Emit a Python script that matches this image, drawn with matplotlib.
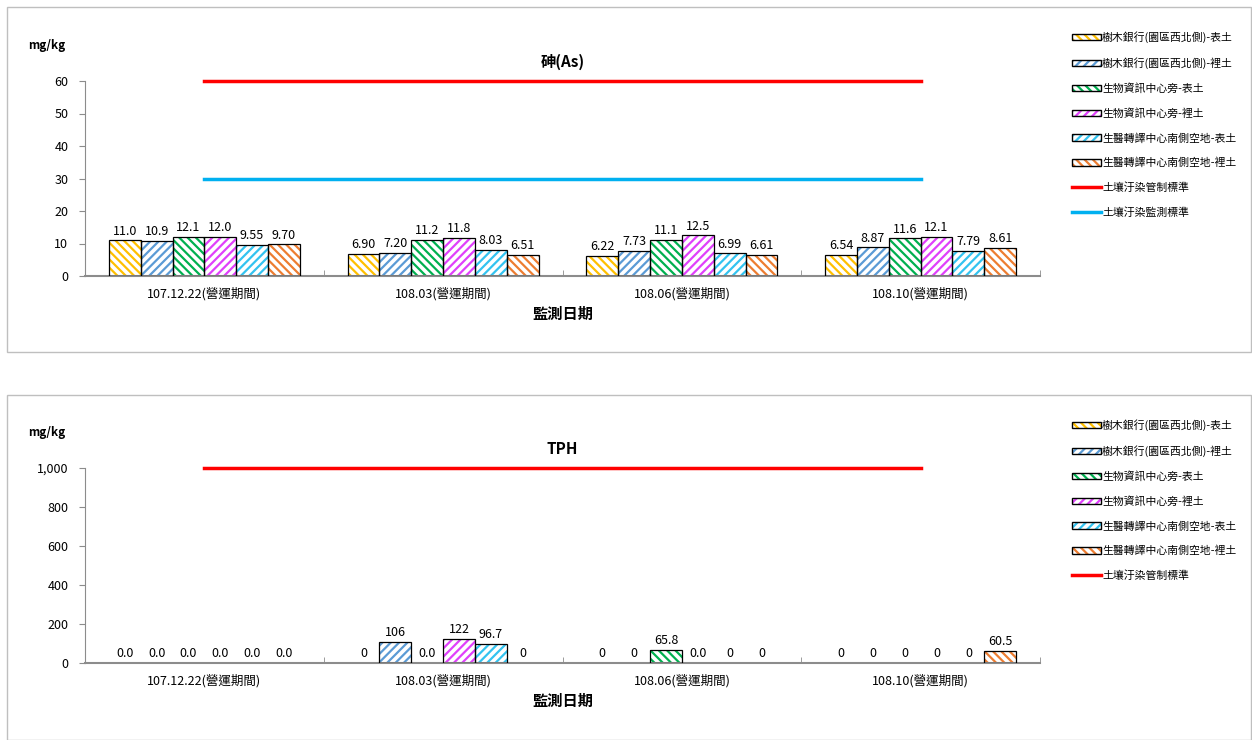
import numpy as np
import matplotlib.pyplot as plt
from matplotlib.patches import Rectangle, Patch
from matplotlib.lines import Line2D
from matplotlib.legend_handler import HandlerTuple
from matplotlib.ticker import FuncFormatter

plt.rcParams['font.family'] = ['Noto Sans CJK TC', 'DejaVu Sans']
plt.rcParams['hatch.linewidth'] = 1.6

# data
dates = ["107.12.22(營運期間)", "108.03(營運期間)", "108.06(營運期間)", "108.10(營運期間)"]
sites = ["樹木銀行(園區西北側)-表土", "樹木銀行(園區西北側)-裡土",
         "生物資訊中心旁-表土", "生物資訊中心旁-裡土",
         "生醫轉譯中心南側空地-表土", "生醫轉譯中心南側空地-裡土"]

as_vals = [[11.0, 6.90, 6.22, 6.54],
           [10.9, 7.20, 7.73, 8.87],
           [12.1, 11.2, 11.1, 11.6],
           [12.0, 11.8, 12.5, 12.1],
           [9.55, 8.03, 6.99, 7.79],
           [9.70, 6.51, 6.61, 8.61]]
as_labels = [["11.0", "6.90", "6.22", "6.54"],
             ["10.9", "7.20", "7.73", "8.87"],
             ["12.1", "11.2", "11.1", "11.6"],
             ["12.0", "11.8", "12.5", "12.1"],
             ["9.55", "8.03", "6.99", "7.79"],
             ["9.70", "6.51", "6.61", "8.61"]]
as_control = 60
as_monitor = 30

tph_vals = [[0, 0, 0, 0],
            [0, 106, 0, 0],
            [0, 0, 65.8, 0],
            [0, 122, 0, 0],
            [0, 96.7, 0, 0],
            [0, 0, 0, 60.5]]
tph_labels = [["0.0", "0", "0", "0"],
              ["0.0", "106", "0", "0"],
              ["0.0", "0.0", "65.8", "0"],
              ["0.0", "122", "0.0", "0"],
              ["0.0", "96.7", "0", "0"],
              ["0.0", "0", "0", "60.5"]]
tph_control = 1000

colors = ["#FFC000", "#5B9BD5", "#00B050", "#E040FB", "#33C3F0", "#ED7D31"]
hatches = ["\\\\\\\\", "////", "\\\\\\\\", "////", "////", "\\\\\\\\"]
axis_gray = "#8C8C8C"

fig = plt.figure(figsize=(12.52, 7.4), dpi=100)

# panel frames
for y0 in [7, 395]:
    fig.patches.append(Rectangle((7 / 1252, 1 - (y0 + 345) / 740), 1244 / 1252, 345 / 740,
                                 transform=fig.transFigure, fill=False,
                                 edgecolor="#BFBFBF", linewidth=1))


def draw_panel(ax, vals, labels, ymax, ystep, title, lines, lab_off):
    x = np.arange(len(dates))
    w = 0.8 / len(sites)
    for i in range(len(sites)):
        xs = x - 0.4 + w * (i + 0.5)
        v = np.array(vals[i])
        ax.bar(xs, v, width=w, facecolor="white", edgecolor=colors[i],
               hatch=hatches[i], linewidth=0, zorder=2)
        nz = v > 0
        ax.bar(xs[nz], v[nz], width=w, facecolor="none", edgecolor="black",
               linewidth=0.9, zorder=3)
        for xx, vv, s in zip(xs, v, labels[i]):
            ax.text(xx, vv + lab_off, s, ha="center", va="bottom", fontsize=9, zorder=4)
    for val, col in lines:
        ax.plot([x[0], x[-1]], [val, val], color=col, linewidth=2.5, clip_on=False, zorder=4)
    ax.set_xlim(-0.5, len(dates) - 0.5)
    ax.set_ylim(0, ymax)
    ax.set_yticks(np.arange(0, ymax + 1, ystep))
    ax.yaxis.set_major_formatter(FuncFormatter(lambda v, p: f"{int(v):,}"))
    ax.set_xticks(x)
    ax.set_xticklabels(dates, fontsize=9)
    ax.set_xticks(np.arange(-0.5, len(dates)), minor=True)
    ax.tick_params(axis="x", which="major", length=0, pad=8)
    ax.tick_params(axis="x", which="minor", direction="in", length=4, color=axis_gray)
    ax.tick_params(axis="y", length=4, color=axis_gray, labelsize=9, pad=8)
    for s in ["top", "right"]:
        ax.spines[s].set_visible(False)
    ax.spines["left"].set_color(axis_gray)
    ax.spines["bottom"].set_color(axis_gray)
    ax.spines["bottom"].set_linewidth(1.5)
    ax.set_xlabel("監測日期", fontsize=11, fontweight="bold", labelpad=4)
    ax.set_title(title, fontsize=11, fontweight="bold", pad=10)
    ax.text(-0.06, 1.15, "mg/kg", transform=ax.transAxes, fontsize=8.5, fontweight="bold",
            ha="left", va="bottom")


ax1 = fig.add_axes([85 / 1252, 1 - 276 / 740, 955 / 1252, 195 / 740])
draw_panel(ax1, as_vals, as_labels, 60, 10, "砷(As)",
           [(as_control, "#FF0000"), (as_monitor, "#00B0F0")], 0.8)
ax2 = fig.add_axes([85 / 1252, 1 - 663 / 740, 955 / 1252, 195 / 740])
draw_panel(ax2, tph_vals, tph_labels, 1000, 200, "TPH",
           [(tph_control, "#FF0000")], 15)

line_names = ["土壤汙染管制標準", "土壤汙染監測標準"]
line_cols = ["#FF0000", "#00B0F0"]


def make_handles(n_lines):
    hs, labs = [], []
    for i in range(len(sites)):
        fill = Patch(facecolor="white", edgecolor=colors[i], hatch=hatches[i], linewidth=0)
        edge = Patch(facecolor="none", edgecolor="black", linewidth=1.0)
        hs.append((fill, edge))
        labs.append(sites[i])
    for j in range(n_lines):
        hs.append(Line2D([0], [0], color=line_cols[j], linewidth=2.5))
        labs.append(line_names[j])
    return hs, labs


for n, top in [(2, 27), (1, 415)]:
    hs, labs = make_handles(n)
    fig.legend(hs, labs, loc="upper left", handler_map={tuple: HandlerTuple(ndivide=1)},
               bbox_to_anchor=(1068 / 1252, 1 - top / 740), frameon=False,
               fontsize=7.8, labelspacing=1.3, handlelength=2.6, handleheight=0.55,
               handletextpad=0.15, borderaxespad=0)

fig.savefig("out.png", dpi=100)
